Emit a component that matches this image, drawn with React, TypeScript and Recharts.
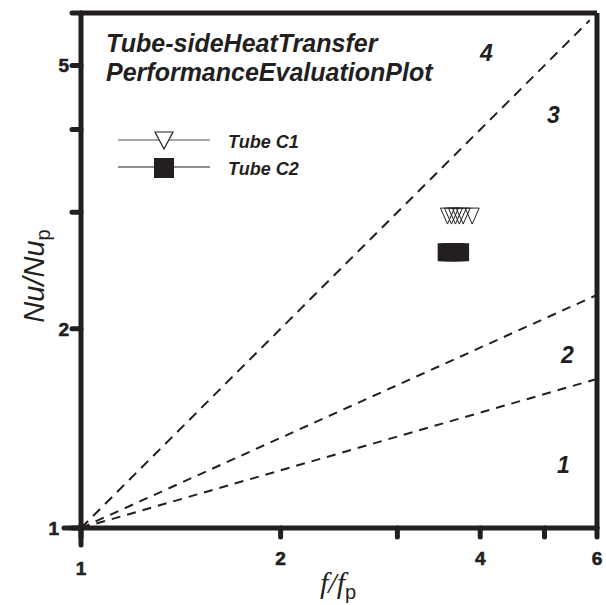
import React from "react";
import { ComposedChart, Line, Scatter, XAxis, YAxis, ReferenceLine } from "recharts";

const xTicks = [1, 2, 3, 4, 5, 6];
const xTickLabels = [1, 2, 4, 6];
const yTicks = [1, 2, 3, 4, 5, 6];
const yTickLabels = [1, 2, 5];

// boundary lines of the evaluation plot (straight in log-log)
const line1 = [
  { x: 1, y: 1 },
  { x: 6, y: 1.68 },
];
const line2 = [
  { x: 1, y: 1 },
  { x: 6, y: 2.25 },
];
const line3 = [
  { x: 1, y: 1 },
  { x: 5.85, y: 5.85 },
];

const tubeC1 = [
  { x: 3.57, y: 2.96 },
  { x: 3.62, y: 2.96 },
  { x: 3.67, y: 2.96 },
  { x: 3.72, y: 2.96 },
  { x: 3.77, y: 2.96 },
  { x: 3.89, y: 2.96 },
];
const tubeC2 = [
  { x: 3.56, y: 2.61 },
  { x: 3.6, y: 2.61 },
  { x: 3.64, y: 2.61 },
  { x: 3.68, y: 2.61 },
  { x: 3.73, y: 2.61 },
];

const zoneLabels = [
  { text: "4", left: 480, top: 40 },
  { text: "3", left: 547, top: 102 },
  { text: "2", left: 561, top: 342 },
  { text: "1", left: 557, top: 452 },
];

const INK = "#231f20";
const SANS = "'Liberation Sans', Arial, sans-serif";
const SERIF = "'Liberation Serif', 'Times New Roman', serif";

const renderXTick = (props: any) => {
  const { x, y, payload } = props;
  const v = payload.value;
  if (!xTickLabels.includes(v)) return <g />;
  const extra = v === 1 ? 10 : 0;
  return (
    <g>
      {v === 1 && (
        <line x1={x} y1={y - 9} x2={x} y2={y + 8} stroke={INK} strokeWidth={5} strokeLinecap="round" />
      )}
      <text
        x={x}
        y={y + 28 + extra}
        textAnchor="middle"
        fill={INK}
        stroke={INK}
        strokeWidth={0.6}
        fontFamily={SANS}
        fontWeight={700}
        fontSize={19}
      >
        {v}
      </text>
    </g>
  );
};

const renderYTick = (props: any) => {
  const { x, y, payload } = props;
  const v = payload.value;
  if (!yTickLabels.includes(v)) return <g />;
  const shift = v === 1 ? 10 : 0;
  return (
    <g>
      {v === 1 && (
        <line x1={x + 9} y1={y} x2={x - 8} y2={y} stroke={INK} strokeWidth={5} strokeLinecap="round" />
      )}
      <text
        x={x - 3 - shift}
        y={y + 7}
        textAnchor="end"
        fill={INK}
        stroke={INK}
        strokeWidth={0.6}
        fontFamily={SANS}
        fontWeight={700}
        fontSize={19}
      >
        {v}
      </text>
    </g>
  );
};

function DownTriangle(props: any) {
  const { cx, cy } = props;
  return (
    <polygon
      points={`${cx - 7},${cy - 8} ${cx + 7},${cy - 8} ${cx},${cy + 8}`}
      fill="none"
      stroke={INK}
      strokeWidth={1}
    />
  );
}

function FilledSquare(props: any) {
  const { cx, cy } = props;
  return <rect x={cx - 9} y={cy - 9} width={18} height={18} fill={INK} />;
}

const axisStroke = { stroke: INK, strokeWidth: 5, strokeLinecap: "round" as const };

export default function App() {
  return (
    <div style={{ position: "absolute", left: 0, top: 0, width: 606, height: 605, background: "#fff" }}>
      <ComposedChart width={606} height={605} margin={{ top: 13, right: 9, left: 41, bottom: 37 }}>
        <XAxis
          dataKey="x"
          type="number"
          scale="log"
          domain={[1, 6]}
          ticks={xTicks}
          allowDataOverflow
          height={40}
          tickSize={9}
          tickMargin={0}
          axisLine={axisStroke}
          tickLine={axisStroke}
          tick={renderXTick}
          interval={0}
        />
        <YAxis
          dataKey="y"
          type="number"
          scale="log"
          domain={[1, 6]}
          ticks={yTicks}
          allowDataOverflow
          width={40}
          tickSize={9}
          tickMargin={0}
          axisLine={axisStroke}
          tickLine={axisStroke}
          tick={renderYTick}
          interval={0}
        />
        <ReferenceLine y={6} stroke={INK} strokeWidth={5} />
        <ReferenceLine x={6} stroke={INK} strokeWidth={5} />
        <Line data={line1} dataKey="y" stroke={INK} strokeWidth={2} strokeDasharray="9 7" dot={false} isAnimationActive={false} />
        <Line data={line2} dataKey="y" stroke={INK} strokeWidth={2} strokeDasharray="9 7" dot={false} isAnimationActive={false} />
        <Line data={line3} dataKey="y" stroke={INK} strokeWidth={2} strokeDasharray="10 7" dot={false} isAnimationActive={false} />
        <Scatter data={tubeC2} shape={<FilledSquare />} isAnimationActive={false} />
        <Scatter data={tubeC1} shape={<DownTriangle />} isAnimationActive={false} />
      </ComposedChart>

      {/* title */}
      <div
        style={{
          position: "absolute",
          left: 106,
          top: 29,
          fontFamily: SANS,
          fontWeight: "bold",
          fontStyle: "italic",
          fontSize: 25,
          lineHeight: "29px",
          color: INK,
          whiteSpace: "nowrap",
        }}
      >
        Tube-sideHeatTransfer
        <br />
        PerformanceEvaluationPlot
      </div>

      {/* legend */}
      <svg style={{ position: "absolute", left: 110, top: 125 }} width={110} height={60}>
        <line x1={8} y1={15} x2={100} y2={15} stroke="#888" strokeWidth={1.5} />
        <polygon points="45,7 63,7 54,24" fill="#fff" stroke={INK} strokeWidth={1.2} />
        <line x1={8} y1={42} x2={100} y2={42} stroke={INK} strokeWidth={1.2} />
        <rect x={44} y={33} width={20} height={20} fill={INK} />
      </svg>
      <div
        style={{
          position: "absolute",
          left: 228,
          top: 129,
          fontFamily: SANS,
          fontWeight: "bold",
          fontStyle: "italic",
          fontSize: 18,
          lineHeight: "27px",
          color: INK,
          whiteSpace: "nowrap",
        }}
      >
        Tube C1
        <br />
        Tube C2
      </div>

      {/* zone numbers */}
      {zoneLabels.map((z) => (
        <div
          key={z.text}
          style={{
            position: "absolute",
            left: z.left,
            top: z.top,
            fontFamily: SANS,
            fontWeight: "bold",
            fontStyle: "italic",
            fontSize: 23,
            lineHeight: "26px",
            color: INK,
          }}
        >
          {z.text}
        </div>
      ))}

      {/* axis titles */}
      <div
        style={{
          position: "absolute",
          left: 36,
          top: 276,
          transform: "translate(-50%, -50%) rotate(-90deg)",
          fontFamily: SANS,
          fontSize: 29,
          color: INK,
          whiteSpace: "nowrap",
        }}
      >
        <span style={{ fontStyle: "italic" }}>Nu/Nu</span>
        <span style={{ fontSize: 20, verticalAlign: "-6px" }}>p</span>
      </div>
      <div
        style={{
          position: "absolute",
          left: 320,
          top: 566,
          fontFamily: SERIF,
          fontSize: 30,
          color: INK,
          whiteSpace: "nowrap",
        }}
      >
        <span style={{ fontStyle: "italic" }}>f/f</span>
        <span style={{ fontFamily: SANS, fontSize: 20, verticalAlign: "-6px" }}>p</span>
      </div>
    </div>
  );
}
